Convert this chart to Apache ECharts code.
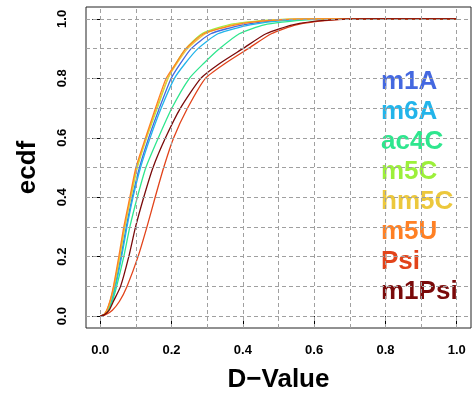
<!DOCTYPE html>
<html>
<head>
<meta charset="utf-8">
<script src="https://cdn.jsdelivr.net/npm/echarts@6/dist/echarts.min.js"></script>
<style>
  html, body { margin: 0; padding: 0; background: #fff; }
  #chart { width: 475px; height: 402px; }
</style>
</head>
<body>
<div id="chart"></div>
<script>
// ecdf levels (y) and the D-value reached by each mark at that level (x)
const levels = [0, 0.005, 0.02, 0.05, 0.1, 0.2, 0.3, 0.4, 0.5, 0.6, 0.7, 0.8, 0.85, 0.9, 0.95, 0.98, 0.995, 1, 1];

const m1A   = [0, 0.011, 0.021, 0.031, 0.041, 0.058, 0.073, 0.090, 0.110, 0.136, 0.166, 0.199, 0.225, 0.255, 0.310, 0.40, 0.50, 0.68, 1.0];
const m6A   = [0, 0.011, 0.021, 0.032, 0.043, 0.060, 0.075, 0.092, 0.113, 0.140, 0.171, 0.208, 0.238, 0.274, 0.330, 0.42, 0.52, 0.70, 1.0];
const ac4C  = [0, 0.012, 0.023, 0.034, 0.046, 0.066, 0.083, 0.104, 0.128, 0.163, 0.201, 0.250, 0.290, 0.335, 0.390, 0.46, 0.56, 0.72, 1.0];
const m5C   = [0, 0.010, 0.019, 0.028, 0.039, 0.055, 0.069, 0.086, 0.104, 0.130, 0.160, 0.190, 0.212, 0.240, 0.285, 0.36, 0.46, 0.62, 1.0];
const hm5C  = [0, 0.010, 0.019, 0.028, 0.038, 0.054, 0.068, 0.085, 0.102, 0.129, 0.158, 0.190, 0.215, 0.245, 0.295, 0.37, 0.47, 0.64, 1.0];
const m5U   = [0, 0.010, 0.018, 0.027, 0.037, 0.052, 0.066, 0.083, 0.100, 0.127, 0.155, 0.185, 0.212, 0.240, 0.290, 0.38, 0.48, 0.62, 1.0];
const Psi   = [0, 0.015, 0.034, 0.054, 0.075, 0.106, 0.131, 0.154, 0.178, 0.206, 0.245, 0.295, 0.350, 0.415, 0.480, 0.55, 0.64, 0.76, 1.0];
const m1Psi = [0, 0.012, 0.025, 0.037, 0.057, 0.080, 0.099, 0.122, 0.148, 0.183, 0.225, 0.282, 0.335, 0.400, 0.465, 0.54, 0.63, 0.75, 1.0];

const names  = ['m1A', 'm6A', 'ac4C', 'm5C', 'hm5C', 'm5U', 'Psi', 'm1Psi'];
const values = [m1A, m6A, ac4C, m5C, hm5C, m5U, Psi, m1Psi];
const colors = ['#4468e0', '#22b4ea', '#2ee68e', '#9cf03a', '#ecc83c', '#ff8024', '#e2431a', '#7a0a0a'];

const majorTicks = [0, 0.2, 0.4, 0.6, 0.8, 1.0];
const gridTicks  = [0, 0.1, 0.2, 0.3, 0.4, 0.5, 0.6, 0.7, 0.8, 0.9, 1.0];

const font = "'Liberation Sans', Arial, Helvetica, sans-serif";

const chart = echarts.init(document.getElementById('chart'), null, { renderer: 'canvas' });

// dashed grid at every 0.1, drawn as mark lines under the curves
const gridSeries = {
    type: 'line',
    data: [],
    z: 1,
    silent: true,
    markLine: {
        silent: true,
        symbol: 'none',
        label: { show: false },
        lineStyle: { color: '#a0a0a0', type: [4, 3], width: 1 },
        emphasis: { disabled: true },
        animation: false,
        data: gridTicks.map(v => ({ xAxis: v })).concat(gridTicks.map(v => ({ yAxis: v })))
    }
};

const curveSeries = names.map((n, i) => ({
    name: n,
    type: 'line',
    z: 3,
    showSymbol: false,
    smooth: 0.2,
    color: colors[i],
    lineStyle: { width: 1.3, color: colors[i], join: 'round' },
    emphasis: { disabled: true },
    data: values[i].map((x, k) => [x, levels[k]])
}));

const option = {
    animation: false,
    grid: {
        left: 86, top: 7, width: 385, height: 321,
        show: true, borderColor: '#222', borderWidth: 1, backgroundColor: '#fff'
    },
    legend: {
        orient: 'vertical',
        left: 371,
        top: 64,
        itemWidth: 0,
        itemHeight: 0,
        itemGap: 4,
        selectedMode: false,
        data: names.map((n, i) => ({
            name: n,
            icon: 'none',
            textStyle: { color: colors[i] }
        })),
        textStyle: { fontFamily: font, fontWeight: 'bold', fontSize: 26, lineHeight: 26 }
    },
    xAxis: {
        type: 'value',
        min: -0.04, max: 1.04,
        offset: 1,
        splitLine: { show: false },
        axisLine: { show: false },
        axisTick: { show: true, length: 8, customValues: majorTicks, lineStyle: { color: '#000' } },
        axisLabel: {
            customValues: majorTicks,
            margin: 15,
            formatter: v => v.toFixed(1),
            fontFamily: font, fontWeight: 'bold', fontSize: 13, color: '#000'
        },
        name: 'D\u2212Value',
        nameLocation: 'middle',
        nameGap: 38,
        nameTextStyle: { fontFamily: font, fontWeight: 'bold', fontSize: 26, color: '#000' }
    },
    yAxis: {
        type: 'value',
        min: -0.04, max: 1.04,
        offset: 1,
        splitLine: { show: false },
        axisLine: { show: false },
        axisTick: { show: true, length: 8, customValues: majorTicks, lineStyle: { color: '#000' } },
        axisLabel: {
            customValues: majorTicks,
            rotate: 90,
            margin: 16,
            formatter: v => v.toFixed(1),
            fontFamily: font, fontWeight: 'bold', fontSize: 13, color: '#000'
        },
        name: 'ecdf',
        nameLocation: 'middle',
        nameGap: 44,
        nameRotate: 90,
        nameTextStyle: { fontFamily: font, fontWeight: 'bold', fontSize: 26, color: '#000' }
    },
    series: [gridSeries].concat(curveSeries)
};

chart.setOption(option);
</script>
</body>
</html>
